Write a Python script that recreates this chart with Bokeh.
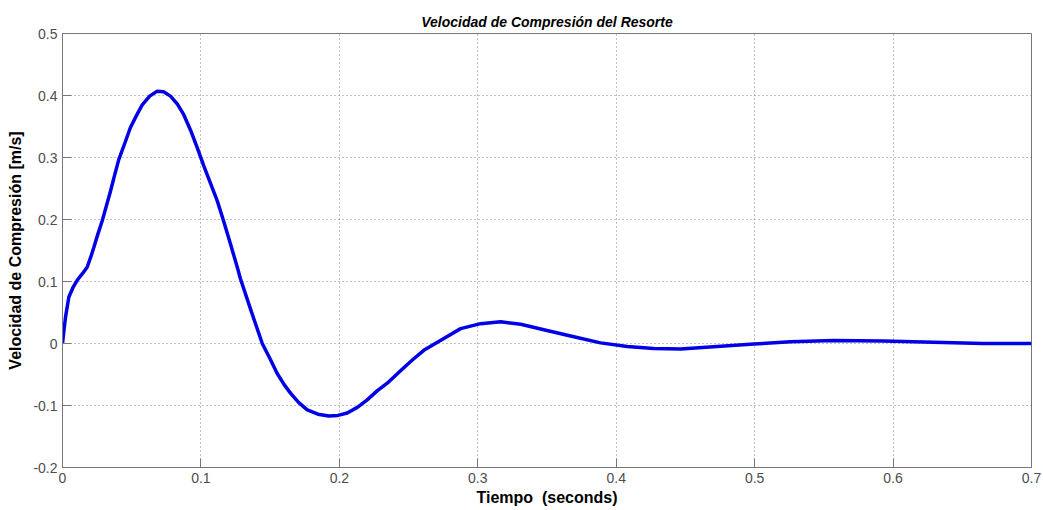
from bokeh.plotting import figure
from bokeh.models import Range1d, FixedTicker
from bokeh.embed import file_html
from bokeh.resources import INLINE

# Data (time in s, velocity in m/s)
t = [0, 0.001, 0.0022, 0.0046, 0.0075, 0.0106, 0.0145, 0.0178, 0.0205, 0.0226,
     0.0255, 0.0287, 0.0317, 0.0347, 0.0377, 0.0407, 0.045, 0.049, 0.0535, 0.0576,
     0.063, 0.0684, 0.073, 0.078, 0.083, 0.0876, 0.0925, 0.0973, 0.102, 0.107,
     0.1118, 0.1166, 0.1214, 0.126, 0.1286, 0.1365, 0.1443, 0.150, 0.155, 0.160,
     0.1647, 0.1705, 0.1768, 0.1845, 0.1924, 0.199, 0.2057, 0.213, 0.2201, 0.2275,
     0.2346, 0.2442, 0.2525, 0.261, 0.273, 0.2876, 0.302, 0.3165, 0.331, 0.350,
     0.3694, 0.3887, 0.408, 0.427, 0.4465, 0.473, 0.4995, 0.526, 0.557, 0.593,
     0.629, 0.665, 0.7]
v = [0, 0.02, 0.043, 0.075, 0.090, 0.102, 0.113, 0.123, 0.140, 0.155,
     0.176, 0.198, 0.222, 0.246, 0.272, 0.297, 0.323, 0.348, 0.368, 0.385,
     0.399, 0.407, 0.406, 0.399, 0.386, 0.369, 0.344, 0.316, 0.287, 0.258,
     0.230, 0.196, 0.160, 0.125, 0.104, 0.051, 0.0, -0.025, -0.048, -0.066,
     -0.080, -0.095, -0.107, -0.114, -0.117, -0.116, -0.112, -0.103, -0.091, -0.076,
     -0.064, -0.044, -0.027, -0.011, 0.005, 0.024, 0.032, 0.035, 0.031, 0.021,
     0.011, 0.001, -0.005, -0.008, -0.009, -0.005, -0.001, 0.003, 0.005, 0.004,
     0.002, 0.0, 0.0]

x_ticks = [0, 0.1, 0.2, 0.3, 0.4, 0.5, 0.6, 0.7]
x_tick_labels = ["0", "0.1", "0.2", "0.3", "0.4", "0.5", "0.6", "0.7"]
y_ticks = [-0.2, -0.1, 0, 0.1, 0.2, 0.3, 0.4, 0.5]
y_tick_labels = ["-0.2", "-0.1", "0", "0.1", "0.2", "0.3", "0.4", "0.5"]

title = "Velocidad de Compresión del Resorte"
x_label = "Tiempo \u00a0(seconds)"
y_label = "Velocidad de Compresión [m/s]"

FONT = "Liberation Sans"
AX = "#777777"
TXT = "#4d4d4d"

p = figure(width=1043, height=510, output_backend="svg", toolbar_location=None,
           x_range=Range1d(0, 0.7), y_range=Range1d(-0.2, 0.5),
           min_border_left=62, min_border_right=12, min_border_top=33,
           min_border_bottom=43)

p.title.text = title
p.title.align = "center"
p.title.text_font = FONT
p.title.text_font_size = "14px"
p.title.text_font_style = "bold italic"
p.title.text_color = "#000000"
p.title.standoff = 7

p.line(t, v, line_color="#0000e6", line_width=3.5)

xax = p.xaxis[0]
yax = p.yaxis[0]

for ax in (xax, yax):
    ax.axis_line_color = AX
    ax.major_tick_line_color = AX
    ax.major_tick_in = 9
    ax.major_tick_out = 0
    ax.minor_tick_line_color = None
    ax.major_label_text_font = FONT
    ax.major_label_text_font_size = "14px"
    ax.major_label_text_color = TXT
    ax.axis_label_text_font = FONT
    ax.axis_label_text_font_size = "16px"
    ax.axis_label_text_font_style = "bold"
    ax.axis_label_text_color = "#000000"

xax.ticker = FixedTicker(ticks=x_ticks)
xax.major_label_overrides = dict(zip(x_ticks, x_tick_labels))
xax.axis_label = x_label
xax.major_label_standoff = 5
xax.axis_label_standoff = 3

yax.ticker = FixedTicker(ticks=y_ticks)
yax.major_label_overrides = dict(zip(y_ticks, y_tick_labels))
yax.axis_label = y_label
yax.major_label_standoff = 5
yax.axis_label_standoff = 6

p.xgrid.ticker = FixedTicker(ticks=x_ticks)
p.ygrid.ticker = FixedTicker(ticks=y_ticks)
for g in (p.xgrid[0], p.ygrid[0]):
    g.grid_line_color = "#808080"
    g.grid_line_dash = "1 3"
    g.grid_line_width = 1

p.outline_line_color = AX
p.outline_line_width = 1
p.background_fill_color = "white"
p.border_fill_color = "white"

out = file_html(p, INLINE)
open("out.html", "w").write(out)
